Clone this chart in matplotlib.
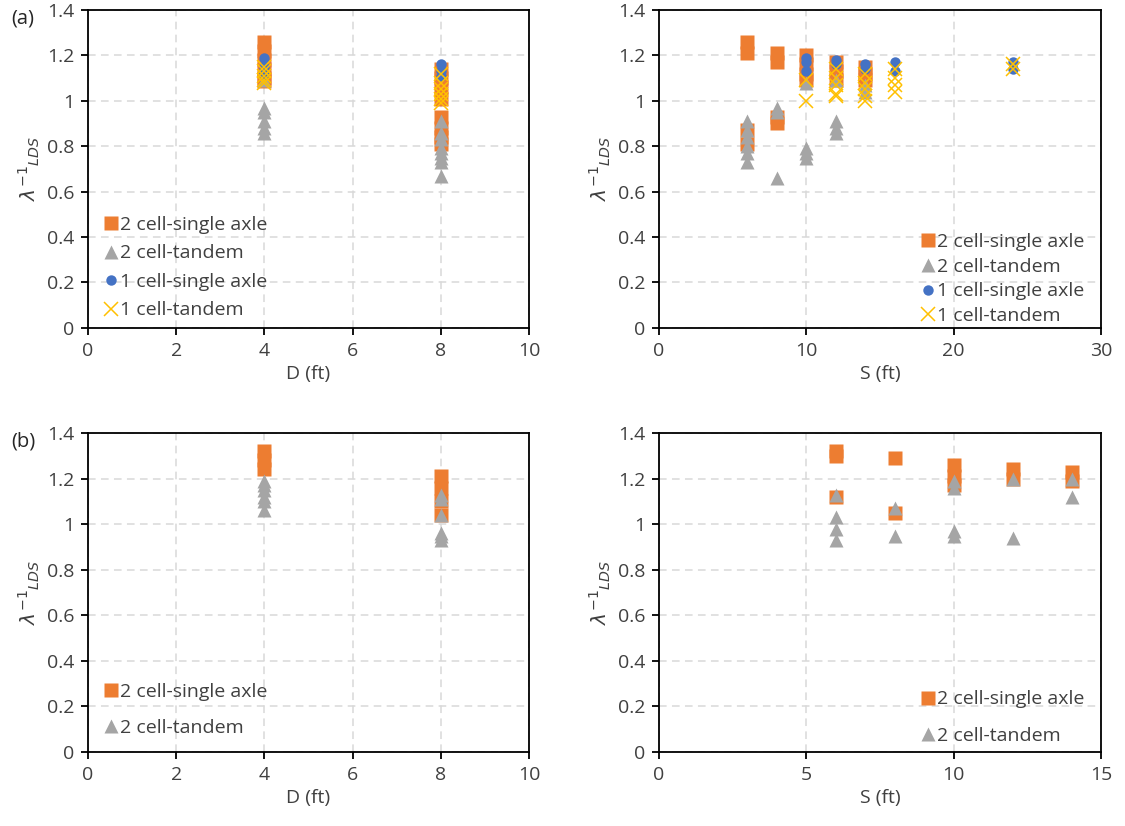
import numpy as np
import matplotlib as mpl
mpl.use('Agg')
import matplotlib.pyplot as plt
from matplotlib import rcParams

rcParams['font.family'] = ['Open Sans', 'DejaVu Sans']
rcParams['mathtext.fontset'] = 'dejavusans'

# colours of the excel series
c_sq = '#ED7D31'
c_tri = '#A5A5A5'
c_circ = '#4472C4'
c_x = '#FFC000'

labels = ['2 cell-single axle', '2 cell-tandem', '1 cell-single axle', '1 cell-tandem']

# ---- (a) vs D ----
a_D_sq_x = [4, 4, 4, 4, 4, 4, 8, 8, 8, 8, 8, 8, 8, 8]
a_D_sq_y = [1.26, 1.22, 1.18, 1.14, 1.10, 1.085, 1.14, 1.10, 1.06, 1.01, 0.93, 0.88, 0.84, 0.81]
a_D_tri_x = [4, 4, 4, 4, 4, 4, 8, 8, 8, 8, 8, 8, 8, 8]
a_D_tri_y = [1.09, 0.97, 0.95, 0.91, 0.88, 0.86, 0.91, 0.86, 0.83, 0.79, 0.77, 0.75, 0.73, 0.67]
a_D_circ_x = [4, 4, 4, 8, 8, 8]
a_D_circ_y = [1.19, 1.15, 1.12, 1.16, 1.13, 1.11]
a_D_x_x = [4, 4, 4, 4, 4, 8, 8, 8, 8, 8, 8]
a_D_x_y = [1.15, 1.13, 1.11, 1.09, 1.08, 1.12, 1.08, 1.05, 1.03, 1.01, 0.99]

# ---- (a) vs S ----
a_S_sq_x = [6, 6, 6, 6, 8, 8, 8, 8, 10, 10, 10, 10, 12, 12, 12, 14, 14, 14]
a_S_sq_y = [1.26, 1.21, 0.87, 0.81, 1.21, 1.17, 0.93, 0.90, 1.20, 1.16, 1.12, 1.09,
            1.17, 1.13, 1.09, 1.15, 1.12, 1.09]
a_S_tri_x = [6, 6, 6, 6, 6, 6, 8, 8, 8, 10, 10, 10, 10, 12, 12, 12, 12, 14, 14]
a_S_tri_y = [0.91, 0.87, 0.84, 0.80, 0.77, 0.73, 0.97, 0.95, 0.66, 1.08, 0.79, 0.77, 0.75,
             1.09, 0.91, 0.88, 0.86, 1.07, 1.04]
a_S_circ_x = [10, 10, 10, 12, 12, 14, 14, 16, 16, 24, 24]
a_S_circ_y = [1.19, 1.17, 1.13, 1.18, 1.16, 1.16, 1.14, 1.17, 1.13, 1.17, 1.14]
a_S_x_x = [10, 10, 12, 12, 12, 12, 12, 14, 14, 14, 14, 14, 16, 16, 16, 16, 24, 24]
a_S_x_y = [1.09, 1.00, 1.14, 1.10, 1.07, 1.03, 1.02, 1.12, 1.08, 1.05, 1.02, 1.00,
           1.14, 1.10, 1.07, 1.04, 1.16, 1.14]

# ---- (b) vs D ----
b_D_sq_x = [4, 4, 4, 8, 8, 8, 8]
b_D_sq_y = [1.32, 1.28, 1.24, 1.21, 1.16, 1.10, 1.04]
b_D_tri_x = [4, 4, 4, 4, 4, 4, 8, 8, 8, 8, 8, 8]
b_D_tri_y = [1.19, 1.17, 1.15, 1.12, 1.10, 1.06, 1.13, 1.11, 1.04, 0.96, 0.95, 0.93]

# ---- (b) vs S ----
b_S_sq_x = [6, 6, 6, 8, 8, 10, 10, 10, 12, 12, 14, 14]
b_S_sq_y = [1.32, 1.30, 1.12, 1.29, 1.05, 1.26, 1.21, 1.17, 1.24, 1.20, 1.23, 1.19]
b_S_tri_x = [6, 6, 6, 6, 8, 8, 10, 10, 10, 10, 12, 12, 14, 14]
b_S_tri_y = [1.13, 1.03, 0.98, 0.93, 1.07, 0.95, 1.19, 1.16, 0.97, 0.95, 1.20, 0.94, 1.20, 1.12]

ylab = r'$\lambda^{\mathrm{-1}}{}_{LDS}$'
fs = 14


def style_ax(ax, xmax, xstep, xlabel):
    ax.set_xlim(0, xmax)
    ax.set_ylim(0, 1.4)
    ax.set_xticks(np.arange(0, xmax + 0.01, xstep))
    ax.set_yticks(np.arange(0, 1.41, 0.2))
    ax.set_yticklabels(['0', '0.2', '0.4', '0.6', '0.8', '1', '1.2', '1.4'])
    ax.grid(True, color='#D9D9D9', linestyle=(0, (5, 3.5)), linewidth=1.1)
    ax.set_axisbelow(True)
    for s in ax.spines.values():
        s.set_linewidth(1.3)
        s.set_color('black')
    ax.tick_params(direction='out', length=5, width=1.3, colors='black',
                   labelcolor='#404040', labelsize=fs, pad=5)
    ax.set_xlabel(xlabel, fontsize=fs, color='#404040', labelpad=4)
    ax.set_ylabel(ylab, fontsize=14.5, color='#404040', labelpad=3)


def plot_pts(ax, sq, tri, circ=None, cross=None):
    ax.plot(sq[0], sq[1], 's', color=c_sq, ms=9.5, mec='none', label=labels[0])
    ax.plot(tri[0], tri[1], '^', color=c_tri, ms=10, mec='none', label=labels[1])
    if circ is not None:
        ax.plot(circ[0], circ[1], 'o', color=c_circ, ms=7.5, mec='none', label=labels[2])
    if cross is not None:
        ax.plot(cross[0], cross[1], 'x', color=c_x, ms=10, mew=1.1, label=labels[3])


def add_leg(ax, loc, anchor, spacing):
    ax.legend(loc=loc, bbox_to_anchor=anchor, frameon=False, fontsize=fs,
              handlelength=0.8, handletextpad=0.1, labelspacing=spacing, borderpad=0,
              labelcolor='#404040')


fig = plt.figure(figsize=(11.25, 8.26), dpi=100)
ax1 = fig.add_axes([0.0782, 0.603, 0.392, 0.385])
ax2 = fig.add_axes([0.5858, 0.603, 0.3929, 0.385])
ax3 = fig.add_axes([0.0782, 0.0896, 0.392, 0.3862])
ax4 = fig.add_axes([0.5858, 0.0896, 0.3929, 0.3862])

plot_pts(ax1, (a_D_sq_x, a_D_sq_y), (a_D_tri_x, a_D_tri_y),
         (a_D_circ_x, a_D_circ_y), (a_D_x_x, a_D_x_y))
style_ax(ax1, 10, 2, 'D (ft)')
add_leg(ax1, 'lower left', (0.012, -0.004), 0.54)

plot_pts(ax2, (a_S_sq_x, a_S_sq_y), (a_S_tri_x, a_S_tri_y),
         (a_S_circ_x, a_S_circ_y), (a_S_x_x, a_S_x_y))
style_ax(ax2, 30, 10, 'S (ft)')
add_leg(ax2, 'lower right', (0.985, -0.022), 0.35)

plot_pts(ax3, (b_D_sq_x, b_D_sq_y), (b_D_tri_x, b_D_tri_y))
style_ax(ax3, 10, 2, 'D (ft)')
add_leg(ax3, 'lower left', (0.012, 0.016), 0.95)

plot_pts(ax4, (b_S_sq_x, b_S_sq_y), (b_S_tri_x, b_S_tri_y))
style_ax(ax4, 15, 5, 'S (ft)')
add_leg(ax4, 'lower right', (0.985, -0.008), 0.95)

fig.text(0.01, 0.978, '(a)', fontsize=14.5, color='#262626', va='center')
fig.text(0.01, 0.466, '(b)', fontsize=14.5, color='#262626', va='center')

plt.savefig('out.png', dpi=100)
